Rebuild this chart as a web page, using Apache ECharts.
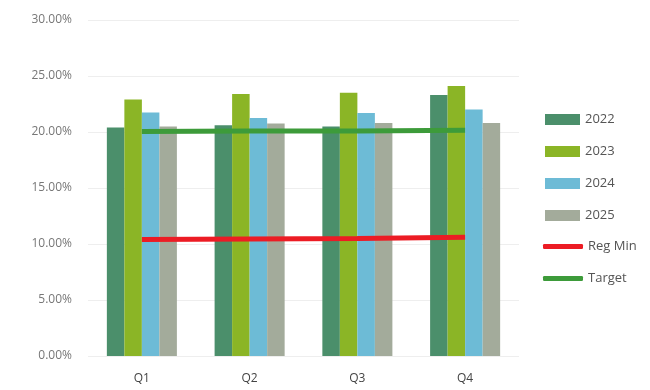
<!DOCTYPE html>
<html>
<head>
<meta charset="utf-8">
<script src="https://cdn.jsdelivr.net/npm/echarts@6/dist/echarts.min.js"></script>
<style>
  html, body { margin: 0; padding: 0; background: #fff; }
  #chart { width: 650px; height: 390px; }
</style>
</head>
<body>
<div id="chart"></div>
<script>
// 数据
const quarters = ['Q1', 'Q2', 'Q3', 'Q4'];
const y2022 = [20.4, 20.6, 20.5, 23.3];
const y2023 = [22.9, 23.4, 23.5, 24.1];
const y2024 = [21.75, 21.25, 21.7, 22.0];
const y2025 = [20.5, 20.75, 20.8, 20.8];
const regMin = [10.4, 10.45, 10.5, 10.6];
const target = [20.05, 20.1, 20.1, 20.15];
const yTicks = [0, 5, 10, 15, 20, 25, 30];

const chart = echarts.init(document.getElementById('chart'));

function bar(name, data, color) {
    return {
        name: name,
        type: 'bar',
        data: data,
        barGap: '0%',
        barCategoryGap: '35%',
        itemStyle: { color: color }
    };
}

function line(name, data, color) {
    return {
        name: name,
        type: 'line',
        data: data,
        symbol: 'none',
        lineStyle: { width: 5, color: color },
        itemStyle: { color: color },
        z: 5
    };
}

const legendText = { color: '#555', fontSize: 13, fontFamily: 'Open Sans' };

const option = {
    textStyle: { fontFamily: 'Open Sans' },
    grid: { left: 88, right: 131, top: 20, bottom: 34 },
    legend: [
        {
            orient: 'vertical',
            left: 540,
            top: 108,
            itemWidth: 35,
            itemHeight: 11,
            itemGap: 19,
            itemTextGap: 3,
            icon: 'rect',
            textStyle: legendText,
            data: ['2022', '2023', '2024', '2025']
        },
        {
            orient: 'vertical',
            left: 538,
            top: 235,
            itemWidth: 40,
            itemHeight: 5,
            itemGap: 19,
            itemTextGap: 0,
            icon: 'roundRect',
            textStyle: legendText,
            data: ['Reg Min', 'Target']
        }
    ],
    xAxis: {
        type: 'category',
        data: quarters,
        axisLine: { show: false },
        axisTick: { show: false },
        axisLabel: { color: '#444', fontSize: 12, margin: 17 }
    },
    yAxis: {
        type: 'value',
        min: yTicks[0],
        max: yTicks[yTicks.length - 1],
        interval: yTicks[1] - yTicks[0],
        axisLabel: {
            color: '#777',
            fontSize: 12,
            margin: 16,
            formatter: v => v.toFixed(2) + '%'
        },
        splitLine: { lineStyle: { color: '#eeeeee' } }
    },
    series: [
        bar('2022', y2022, '#4b8f6b'),
        bar('2023', y2023, '#8bb526'),
        bar('2024', y2024, '#6dbbd6'),
        bar('2025', y2025, '#a3ab9b'),
        line('Reg Min', regMin, '#ec1c24'),
        line('Target', target, '#3d9b3a')
    ]
};

chart.setOption(option);
</script>
</body>
</html>
